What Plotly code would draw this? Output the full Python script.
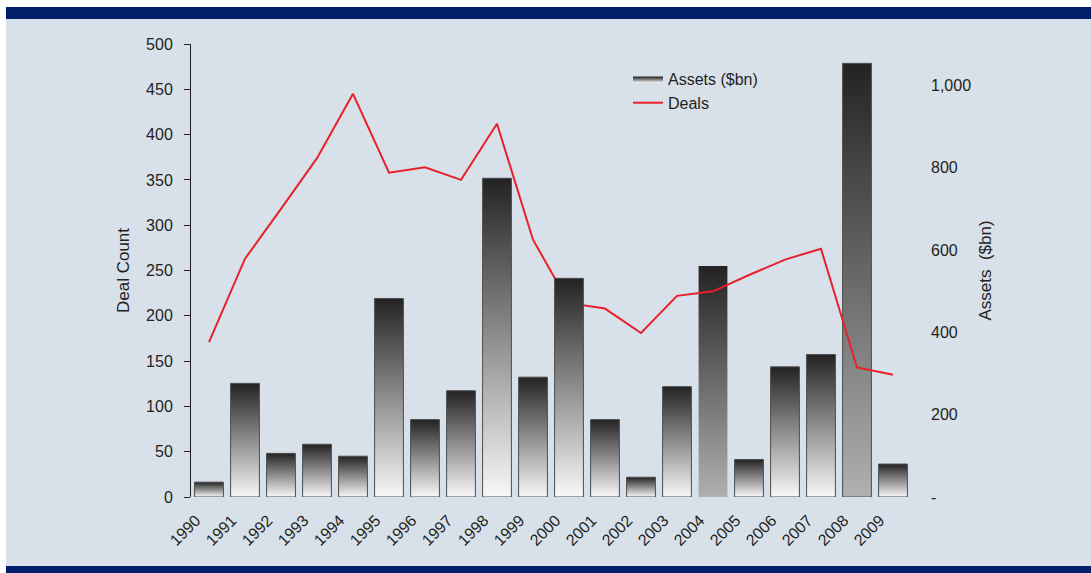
import plotly.graph_objects as go

# Yearly M&A activity: asset value (bars, right axis) and deal count (line, left axis)
years = [str(y) for y in range(1990, 2010)]
assets_bn = [36, 276, 106, 128, 99, 482, 188, 258, 774, 291,
             531, 188, 48, 268, 561, 91, 316, 346, 1053, 80]
deal_count = [171, 263, 318, 374, 445, 358, 364, 350, 412, 284,
              214, 208, 181, 222, 227, 245, 262, 274, 143, 135]
deal_ticks = list(range(0, 501, 50))
asset_tickvals = [0, 200, 400, 600, 800, 1000]
asset_ticktext = ["-", "200", "400", "600", "800", "1,000"]

W, H = 1091, 573
L, R, T, B = 191, 911, 44, 497          # plot area in pixels
BAR_W = 0.8
TEXT = "#231f20"
NAVY = "#001e69"
PANEL = "#d8e0ea"
FONT = "Liberation Sans, Arial, Helvetica, sans-serif"

grey_bottom_years = {"2004", "2008"}
borderless_years = {"2004"}
front_years = {"2000"}

fig = go.Figure()

for i, (yr, v) in enumerate(zip(years, assets_bn)):
    x0, x1 = i - BAR_W / 2, i + BAR_W / 2
    bottom = "#b0b0b0" if yr in grey_bottom_years else "#f8f8f8"
    fig.add_trace(go.Scatter(
        x=[x0, x1, x1, x0, x0], y=[0, 0, v, v, 0],
        mode="lines", fill="toself",
        fillgradient=dict(type="vertical",
                          colorscale=[[0, bottom], [1, "#232323"]],
                          start=0, stop=v),
        line=dict(color="#4d4d4d", width=0 if yr in borderless_years else 1),
        name="Assets ($bn)", legendgroup="assets", showlegend=(i == 0),
        yaxis="y4" if yr in front_years else "y",
        hoverinfo="skip",
    ))

fig.add_trace(go.Scatter(
    x=list(range(len(years))), y=deal_count, yaxis="y2",
    mode="lines", line=dict(color="#e8202a", width=2),
    name="Deals", hoverinfo="skip",
))


def px_x(px):
    return (px - L) / (R - L)


def px_y(py):
    return (B - py) / (B - T)


shapes = [
    # white strips on top and left edge
    dict(type="rect", xref="paper", yref="paper", x0=px_x(0), x1=px_x(W),
         y0=px_y(7), y1=px_y(0), fillcolor="white", line_width=0, layer="below"),
    dict(type="rect", xref="paper", yref="paper", x0=px_x(0), x1=px_x(6),
         y0=px_y(H), y1=px_y(0), fillcolor="white", line_width=0, layer="below"),
    # navy bands
    dict(type="rect", xref="paper", yref="paper", x0=px_x(6), x1=px_x(W),
         y0=px_y(19), y1=px_y(7), fillcolor=NAVY, line_width=0, layer="below"),
    dict(type="rect", xref="paper", yref="paper", x0=px_x(6), x1=px_x(W),
         y0=px_y(H), y1=px_y(566), fillcolor=NAVY, line_width=0, layer="below"),
]

fig.update_layout(
    width=W, height=H, autosize=False,
    margin=dict(l=L, r=W - R, t=T, b=H - B, pad=0),
    paper_bgcolor=PANEL, plot_bgcolor="rgba(0,0,0,0)",
    font=dict(family=FONT, size=16, color=TEXT),
    shapes=shapes,
    showlegend=True,
    legend=dict(x=px_x(628), y=px_y(62), xanchor="left", yanchor="top",
                bgcolor="rgba(0,0,0,0)", font=dict(size=16, color=TEXT),
                tracegroupgap=0),
    xaxis=dict(range=[-0.5, len(years) - 0.5], tickmode="array",
               tickvals=list(range(len(years))), ticktext=years,
               tickangle=-45, tickfont=dict(size=16), ticklabelshift=-13,
               ticklabelstandoff=10,
               showline=False, showgrid=False, zeroline=False, ticks=""),
    yaxis=dict(side="right", range=[0, 1100], tickmode="array",
               tickvals=asset_tickvals, ticktext=asset_ticktext,
               showgrid=False, zeroline=False, showline=False, ticks="",
               ticklabelstandoff=19, tickfont=dict(size=16),
               title=dict(text="Assets\u00a0 ($bn)", font=dict(size=17), standoff=8)),
    yaxis2=dict(side="left", overlaying="y", range=[0, 500], tickmode="array",
                tickvals=deal_ticks, showgrid=False, zeroline=False,
                showline=True, linecolor=TEXT, linewidth=1,
                ticks="outside", ticklen=6, tickcolor=TEXT, tickwidth=1,
                ticklabelstandoff=8, tickfont=dict(size=16),
                title=dict(text="Deal Count", font=dict(size=17), standoff=12)),
    yaxis3=dict(side="left", overlaying="y", range=[0, 500], tickmode="array",
                tickvals=deal_ticks, showgrid=False, zeroline=False,
                showline=False, ticks="inside", ticklen=6, tickcolor=TEXT,
                tickwidth=1, showticklabels=False),
    yaxis4=dict(overlaying="y", range=[0, 1100], visible=False),
)

fig.write_html("out.html")
